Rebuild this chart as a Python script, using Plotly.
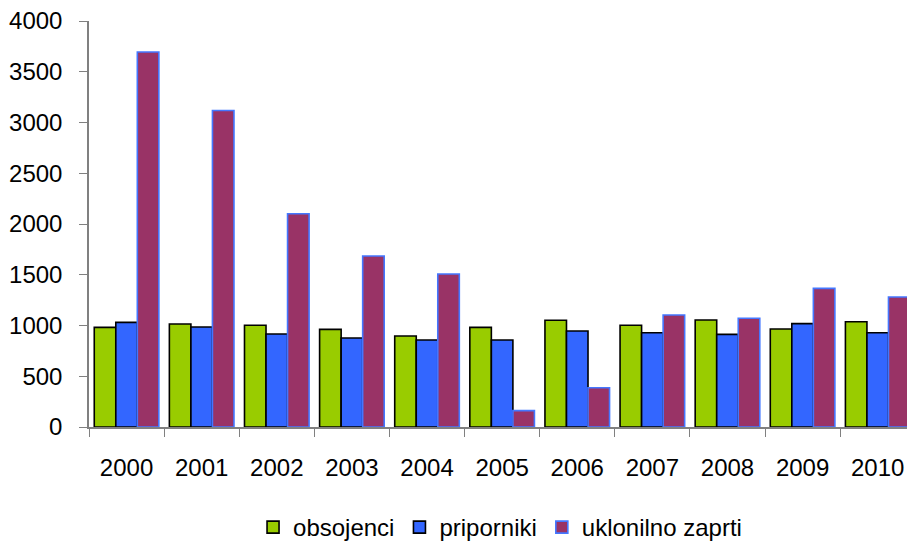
import plotly.graph_objects as go

years = ["2000", "2001", "2002", "2003", "2004", "2005", "2006", "2007", "2008", "2009", "2010"]
obsojenci = [982, 1015, 1002, 962, 896, 982, 1051, 1002, 1054, 965, 1037]
priporniki = [1031, 985, 916, 877, 857, 857, 946, 929, 913, 1018, 929]
uklonilno_zaprti = [3695, 3118, 2101, 1685, 1507, 161, 387, 1103, 1071, 1366, 1281]

FONT = "Liberation Sans, Arial, sans-serif"

fig = go.Figure()
fig.add_trace(go.Bar(x=years, y=obsojenci, name="obsojenci",
                     marker=dict(color="#99CC00", line=dict(color="#000000", width=1.6))))
fig.add_trace(go.Bar(x=years, y=priporniki, name="priporniki",
                     marker=dict(color="#3366FF", line=dict(color="#000000", width=1.6))))
fig.add_trace(go.Bar(x=years, y=uklonilno_zaprti, name="uklonilno zaprti",
                     marker=dict(color="#993366", line=dict(color="#4477FF", width=1.6))))

# The figure is a little taller than the window so the legend never pushes the margins;
# the page body margin is removed so the figure starts at the window's top-left corner.
fig.update_layout(
    width=907, height=575,
    margin=dict(l=89, r=0, t=21, b=148),
    paper_bgcolor="white", plot_bgcolor="white",
    barmode="group", bargap=0.14, bargroupgap=0,
    font=dict(family=FONT, size=24, color="#000000"),
    showlegend=True,
    legend=dict(orientation="h", x=0.5025, xanchor="center", y=-0.2475, yanchor="middle",
                font=dict(family=FONT, size=24), tracegroupgap=0),
    xaxis=dict(type="category", range=[-0.5, 10.39], showline=True, linecolor="#808080",
               linewidth=1.5, ticks="outside", tickson="boundaries", ticklen=8,
               tickcolor="#808080", showgrid=False, ticklabelstandoff=18, automargin=False,
               ticklabeloverflow="allow", tickfont=dict(family=FONT, size=24)),
    yaxis=dict(range=[0, 4000], dtick=500, showline=True, linecolor="#808080", linewidth=1.5,
               ticks="outside", ticklen=8, tickcolor="#808080", showgrid=False,
               zeroline=False, ticklabelstandoff=12, automargin=False,
               ticklabeloverflow="allow", tickfont=dict(family=FONT, size=24)),
)

fig.write_html(
    "out.html",
    config={"displayModeBar": False},
    post_script=(
        "document.body.style.margin='0';"
        "document.body.style.overflow='hidden';"
        "document.documentElement.style.overflow='hidden';"
    ),
)
